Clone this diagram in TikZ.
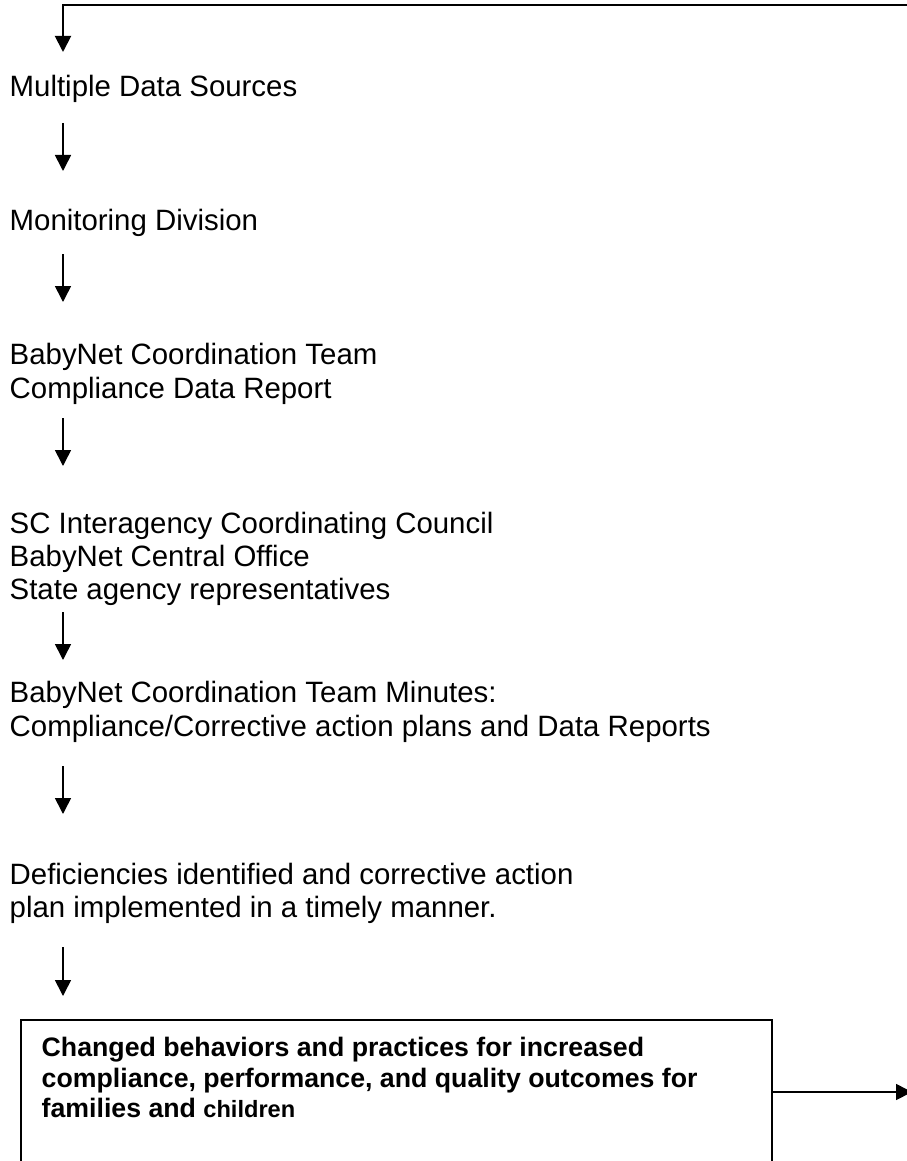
\documentclass[tikz,border=0pt]{standalone}
\usepackage{fontspec}
\setmainfont{Liberation Sans}
\usetikzlibrary{arrows.meta,calc}
\begin{document}
\begin{tikzpicture}[x=1pt,y=-1pt,
  txt/.style={anchor=base west, inner sep=0pt, font=\fontsize{29.4}{33.5}\selectfont},
  btxt/.style={anchor=base west, inner sep=0pt, font=\bfseries\fontsize{26.7}{30.5}\selectfont},
  arr/.style={line width=1.6pt, -{Triangle[length=16pt,width=16pt]}},
  boxst/.style={draw, line width=1.4pt, anchor=north west, inner sep=0pt, outer sep=0pt, minimum width=751pt, minimum height=150pt}]
\useasboundingbox (0,0) rectangle (906,1161);
\fill[white] (0,0) rectangle (906,1161);
% text nodes
\node[txt] (t1) at (9.5,97) {Multiple Data Sources};
\node[txt] (t2) at (9.5,230) {Monitoring Division};
\node[txt] (t3a) at (9.5,364) {BabyNet Coordination Team};
\node[txt] (t3b) at (9.5,398) {Compliance Data Report};
\node[txt] (t4a) at (9.5,533) {SC Interagency Coordinating Council};
\node[txt] (t4b) at (9.5,566) {BabyNet Central Office};
\node[txt] (t4c) at (9.5,599) {State agency representatives};
\node[txt] (t5a) at (9.5,702) {BabyNet Coordination Team Minutes:};
\node[txt] (t5b) at (9.5,736) {Compliance/Corrective action plans and Data Reports};
\node[txt] (t6a) at (9.5,884) {Deficiencies identified and corrective action};
\node[txt] (t6b) at (9.5,917) {plan implemented in a timely manner.};
% box
\node[boxst] (box) at (21,1020) {};
\node[btxt] (b1) at (41.5,1056) {Changed behaviors and practices for increased};
\node[btxt] (b2) at (41.5,1087) {compliance, performance, and quality outcomes for};
\node[btxt] (b3) at (41.5,1117) {families and {\fontsize{23.6}{28}\selectfont children}};
% coordinates
\coordinate (ax) at (63,0);
\coordinate (tr) at (912,5);
\coordinate (tl) at (63,5);
\coordinate (rt) at (912,1092);
% top feedback line
\draw[arr, line width=1.9pt] (tr) -- (tl) -- ($(t1.base -| ax)+(0,-45)$);
% arrows between blocks
\draw[arr] ($(t1.base -| ax)+(0,26)$) -- ($(t2.base -| ax)+(0,-59)$);
\draw[arr] ($(t2.base -| ax)+(0,24)$) -- ($(t3a.base -| ax)+(0,-62)$);
\draw[arr] ($(t3b.base -| ax)+(0,20)$) -- ($(t4a.base -| ax)+(0,-67)$);
\draw[arr] ($(t4c.base -| ax)+(0,13)$) -- ($(t5a.base -| ax)+(0,-42)$);
\draw[arr] ($(t5b.base -| ax)+(0,30)$) -- ($(t6a.base -| ax)+(0,-70)$);
\draw[arr] ($(t6b.base -| ax)+(0,30)$) -- ($(box.north west -| ax)+(0,-24)$);
% output arrow
\draw[arr] (box.east |- rt) -- (rt);
\end{tikzpicture}
\end{document}
